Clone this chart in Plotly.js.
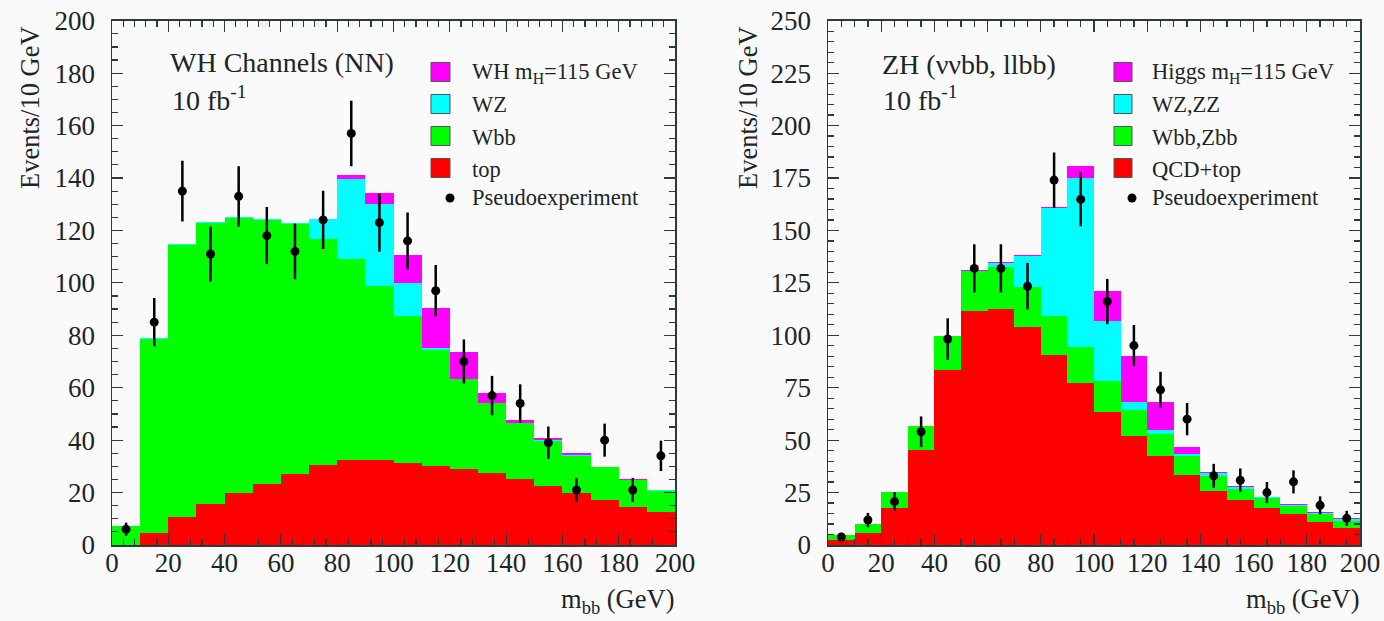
<!DOCTYPE html>
<html>
<head>
<meta charset="utf-8">
<script src="https://cdn.plot.ly/plotly-3.0.1.min.js"></script>
<style>html,body{margin:0;padding:0;background:#fafafa;}#chart{width:1384px;height:621px;}</style>
</head>
<body>
<div id="chart"></div>
<script>
// bin centres of m_bb (GeV), 10 GeV bins
const binCenters = [5,15,25,35,45,55,65,75,85,95,105,115,125,135,145,155,165,175,185,195];

// ---- Left panel: WH channels (NN) ----
const whTop  = [0, 4.7, 10.7, 15.6, 19.7, 23.4, 27.0, 30.4, 32.3, 32.3, 31.3, 30.3, 29.0, 27.4, 25.1, 22.6, 20.0, 17.2, 14.5, 12.5];
const whWbb  = [7.4, 74.0, 103.8, 107.4, 105.1, 100.4, 95.5, 86.4, 76.9, 66.4, 56.1, 44.0, 34.2, 26.7, 21.3, 17.2, 14.1, 12.4, 10.3, 8.2];
const whWZ   = [0, 0.4, 0.5, 0.3, 0.4, 0.5, 0.5, 7.4, 30.5, 31.5, 12.7, 0.8, 0.3, 0.2, 0.2, 0.2, 0.1, 0.1, 0.1, 0.1];
const whSig  = [0, 0, 0, 0, 0, 0, 0, 0.1, 1.4, 3.9, 10.7, 15.2, 10.3, 3.6, 1.1, 0.7, 0.8, 0.1, 0.1, 0];
const whData = [6, 85, 135, 111, 133, 118, 112, 124, 157, 123, 116, 97, 70, 57, 54, 39, 21, 40, 21, 34];
const whErr  = [2.5, 9.2, 11.6, 10.5, 11.5, 10.9, 10.6, 11.1, 12.5, 11.1, 10.8, 9.8, 8.4, 7.5, 7.3, 6.2, 4.6, 6.3, 4.6, 5.8];

// ---- Right panel: ZH (nunubb, llbb) ----
const zhQCD  = [2.2, 5.6, 17.8, 45.2, 83.4, 111.5, 112.7, 103.8, 90.6, 77.4, 63.5, 51.8, 42.2, 33.4, 25.8, 21.5, 17.8, 14.6, 11.1, 8.3];
const zhVbb  = [2.6, 4.6, 7.5, 11.6, 16.1, 19.1, 20.0, 19.3, 18.8, 16.9, 14.8, 12.5, 10.7, 9.1, 7.2, 5.4, 4.5, 4.0, 3.9, 3.2];
const zhVV   = [0, 0, 0, 0, 0, 0.2, 1.6, 14.7, 51.1, 80.8, 28.7, 3.7, 1.9, 0.8, 1.1, 0.8, 0.4, 0.4, 0.4, 0.8];
const zhSig  = [0, 0, 0, 0, 0, 0.2, 0.5, 0.4, 0.8, 5.6, 14.0, 22.3, 13.5, 3.5, 0.8, 0.5, 0.4, 0.4, 0.4, 0.4];
const zhData = [3.8, 11.9, 20.7, 54, 98.2, 131.9, 131.9, 123.4, 174, 164.8, 116.1, 95.1, 74, 60, 33, 30.9, 25, 30.1, 18.9, 12.7];
const zhErr  = [2.0, 3.4, 4.5, 7.3, 9.9, 11.5, 11.5, 11.1, 13.2, 12.8, 10.8, 9.8, 8.6, 7.7, 5.7, 5.6, 5.0, 5.5, 4.3, 3.6];

// legend labels
const leftLabels  = ['WH m<sub>H</sub>=115 GeV', 'WZ', 'Wbb', 'top', 'Pseudoexperiment'];
const rightLabels = ['Higgs m<sub>H</sub>=115 GeV', 'WZ,ZZ', 'Wbb,Zbb', 'QCD+top', 'Pseudoexperiment'];
const stackColors = ['#ff00ff', '#00ffff', '#00ff00', '#ff0000'];

const W = 1384, H = 621;
const FONT = "'Liberation Serif', 'Times New Roman', Times, serif";
const TXT = '#1c2626';

function bar(y, color, name, xa, ya) {
  return {type: 'bar', x: binCenters, y: y, width: 10, name: name, xaxis: xa, yaxis: ya,
    marker: {color: color, line: {width: 0}}, showlegend: false, hoverinfo: 'skip'};
}
function pts(y, err, xa, ya) {
  return {type: 'scatter', mode: 'markers', x: binCenters, y: y, xaxis: xa, yaxis: ya,
    marker: {color: '#000', size: 9}, showlegend: false, name: 'Pseudoexperiment',
    error_y: {type: 'data', array: err, visible: true, color: '#000', thickness: 2.5, width: 0}};
}

const traces = [
  bar(whTop, stackColors[3], 'top', 'x', 'y'),
  bar(whWbb, stackColors[2], 'Wbb', 'x', 'y'),
  bar(whWZ,  stackColors[1], 'WZ', 'x', 'y'),
  bar(whSig, stackColors[0], 'WH mH=115 GeV', 'x', 'y'),
  pts(whData, whErr, 'x', 'y'),
  bar(zhQCD, stackColors[3], 'QCD+top', 'x2', 'y2'),
  bar(zhVbb, stackColors[2], 'Wbb,Zbb', 'x2', 'y2'),
  bar(zhVV,  stackColors[1], 'WZ,ZZ', 'x2', 'y2'),
  bar(zhSig, stackColors[0], 'Higgs mH=115 GeV', 'x2', 'y2'),
  pts(zhData, zhErr, 'x2', 'y2')
];

const px = v => v / W;
const py = v => 1 - v / H;

function axisX(domain, minorStep) {
  return {domain: domain, range: [0, 200], dtick: 20, tick0: 0, ticks: 'inside', ticklen: 11, tickwidth: 1.2,
    tickcolor: '#2b3b3b', showline: true, linecolor: '#2b3b3b', linewidth: 1.5, mirror: 'ticks',
    showgrid: false, zeroline: false, tickfont: {family: FONT, size: 27, color: TXT}, ticklabelstandoff: -7,
    minor: {dtick: minorStep, ticks: 'inside', ticklen: 6, tickwidth: 1.2, tickcolor: '#2b3b3b', showgrid: false}};
}
function axisY(domain, top, major, anchor) {
  return {domain: domain, range: [0, top], dtick: major, tick0: 0, ticks: 'inside', ticklen: 11, tickwidth: 1.2,
    tickcolor: '#2b3b3b', showline: true, linecolor: '#2b3b3b', linewidth: 1.5, mirror: 'ticks', anchor: anchor,
    showgrid: false, zeroline: false, tickfont: {family: FONT, size: 27, color: TXT}, ticklabelstandoff: 10,
    minor: {dtick: 5, ticks: 'inside', ticklen: 6, tickwidth: 1.2, tickcolor: '#2b3b3b', showgrid: false}};
}

const yDom = [(H - 545) / H, (H - 20.7) / H];

const annotations = [];
const shapes = [];
function txt(text, x, y, size, xanchor, yanchor, angle) {
  annotations.push({text: text, x: px(x), y: py(y), xref: 'paper', yref: 'paper', showarrow: false,
    xanchor: xanchor || 'left', yanchor: yanchor || 'middle', textangle: angle || 0,
    font: {family: FONT, size: size, color: TXT}});
}

// panel texts
txt('WH Channels (NN)', 168, 62, 28);
txt('10 fb<sup>-1</sup>', 170, 98, 28);
txt('ZH (ννbb, llbb)', 880, 64, 28);
txt('10 fb<sup>-1</sup>', 881, 98, 28);
// axis titles
txt('Events/10 GeV', 30, 108, 26.5, 'center', 'middle', -90);
txt('Events/10 GeV', 748, 108, 26.5, 'center', 'middle', -90);
txt('m<sub>bb</sub> (GeV)', 676, 601, 26.5, 'right', 'middle');
txt('m<sub>bb</sub> (GeV)', 1361, 601, 26.5, 'right', 'middle');

// custom legends
function legend(labels, swX0, swX1, textX) {
  const ys = [72, 104, 136, 168];
  for (let i = 0; i < 4; i++) {
    shapes.push({type: 'rect', xref: 'paper', yref: 'paper', x0: px(swX0), x1: px(swX1),
      y0: py(ys[i] - 9.5), y1: py(ys[i] + 9.5), fillcolor: stackColors[i], line: {color: '#555', width: 1}});
    txt(labels[i], textX, ys[i] + 1, 22.5);
  }
  shapes.push({type: 'circle', xref: 'paper', yref: 'paper', x0: px(swX1 - 4.5), x1: px(swX1 + 4.5),
    y0: py(198 - 4.5), y1: py(198 + 4.5), fillcolor: '#000', line: {color: '#000', width: 0}});
  txt(labels[4], textX, 198, 22.5);
}
legend(leftLabels, 431, 450, 470);
legend(rightLabels, 1114, 1132, 1150);

const layout = {
  width: W, height: H, margin: {l: 0, r: 0, t: 0, b: 0},
  paper_bgcolor: '#fafafa', plot_bgcolor: '#fafafa',
  barmode: 'stack', bargap: 0, showlegend: false,
  font: {family: FONT, color: TXT},
  xaxis: Object.assign(axisX([px(112), px(675)], 4), {anchor: 'y'}),
  yaxis: axisY(yDom, 200, 20, 'x'),
  xaxis2: Object.assign(axisX([px(828), px(1360)], 5), {anchor: 'y2'}),
  yaxis2: axisY(yDom, 250, 25, 'x2'),
  annotations: annotations, shapes: shapes
};

Plotly.newPlot('chart', traces, layout, {staticPlot: true, displayModeBar: false});
</script>
</body>
</html>
